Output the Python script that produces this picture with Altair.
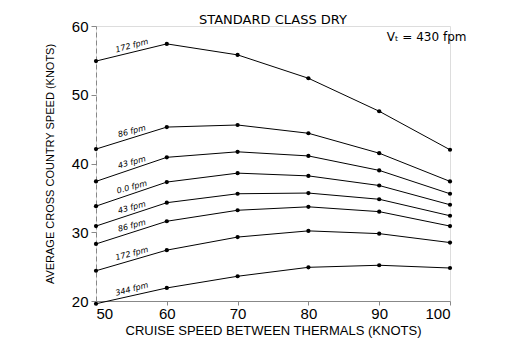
import altair as alt
import pandas as pd

cruise_speed = [50, 60, 70, 80, 90, 100]

series_labels = ["172 fpm", "86 fpm", "43 fpm", "0.0 fpm", "43 fpm", "86 fpm", "172 fpm", "344 fpm"]

lift_172 = [54.9, 57.4, 55.8, 52.4, 47.6, 42.0]
lift_86 = [42.1, 45.3, 45.6, 44.4, 41.5, 37.4]
lift_43 = [37.4, 40.9, 41.7, 41.1, 39.0, 35.6]
still_0 = [33.8, 37.3, 38.6, 38.2, 36.8, 34.0]
sink_43 = [30.9, 34.3, 35.6, 35.7, 34.8, 32.4]
sink_86 = [28.3, 31.6, 33.2, 33.7, 33.0, 30.9]
sink_172 = [24.4, 27.4, 29.3, 30.2, 29.8, 28.5]
sink_344 = [19.6, 21.9, 23.6, 24.9, 25.2, 24.8]

all_series = [lift_172, lift_86, lift_43, still_0, sink_43, sink_86, sink_172, sink_344]

y_ticks = [20, 30, 40, 50, 60]
x_ticks = [50, 60, 70, 80, 90, 100]

annotation_text = ["V\u209c = 430 fpm"]
annotation_x = [96.7]
annotation_y = [58.4]

rows = []
for sid, (lab, vals) in enumerate(zip(series_labels, all_series)):
    for c, v in zip(cruise_speed, vals):
        rows.append({"sid": sid, "label": lab, "cruise": c, "speed": v})
df = pd.DataFrame(rows)

lab_rows = []
for sid, (lab, vals) in enumerate(zip(series_labels, all_series)):
    lab_rows.append({"sid": sid, "label": lab, "cruise": 55.3,
                     "speed": vals[0] + (vals[1] - vals[0]) * 0.53})
lab_df = pd.DataFrame(lab_rows)

ann_df = pd.DataFrame({"text": annotation_text, "x": annotation_x, "y": annotation_y})

FONT = "DejaVu Sans"

xs = alt.Scale(domain=[50, 100])
ys = alt.Scale(domain=[20, 60])

x_enc = alt.X("cruise:Q", scale=xs, axis=alt.Axis(
    values=x_ticks, title="CRUISE SPEED  BETWEEN THERMALS (KNOTS)",
    labelFontSize=15, titleFontSize=13, tickSize=4, labelPadding=1,
    titlePadding=3, titleFontWeight="normal", grid=False))
y_enc = alt.Y("speed:Q", scale=ys, axis=alt.Axis(
    values=y_ticks, title="AVERAGE CROSS COUNTRY SPEED (KNOTS)",
    labelFontSize=15, titleFontSize=11, tickSize=5, labelPadding=3,
    titlePadding=16, titleFontWeight="normal", grid=False,
    domainDash=[5, 3]))

base = alt.Chart(df)
lines = base.mark_line(color="black", strokeWidth=1.0, clip=False).encode(
    x=x_enc, y=y_enc, detail="sid:N")
points = base.mark_circle(color="black", size=18, opacity=1, clip=False).encode(
    x="cruise:Q", y="speed:Q")
labels = alt.Chart(lab_df).mark_text(
    font=FONT, fontSize=8, angle=345, dy=-6, color="black", fontStyle="italic"
).encode(x="cruise:Q", y="speed:Q", text="label:N")
ann = alt.Chart(ann_df).mark_text(font=FONT, fontSize=12, color="black").encode(
    x="x:Q", y="y:Q", text="text:N")

chart = alt.layer(lines, points, labels, ann).properties(
    width=354, height=275,
    autosize=alt.AutoSizeParams(type="none"),
    padding={"left": 88, "top": 18, "right": 72, "bottom": 45},
    title=alt.TitleParams("STANDARD CLASS DRY", fontSize=13, fontWeight="normal",
                          font=FONT, offset=-8, anchor="middle"),
).configure_view(stroke=None).configure_axis(
    domainColor="black", tickColor="black", labelColor="black", titleColor="black",
    labelFont=FONT, titleFont=FONT,
).configure(background="white")

chart.save("out.html", embed_options={"renderer": "svg", "actions": False})
